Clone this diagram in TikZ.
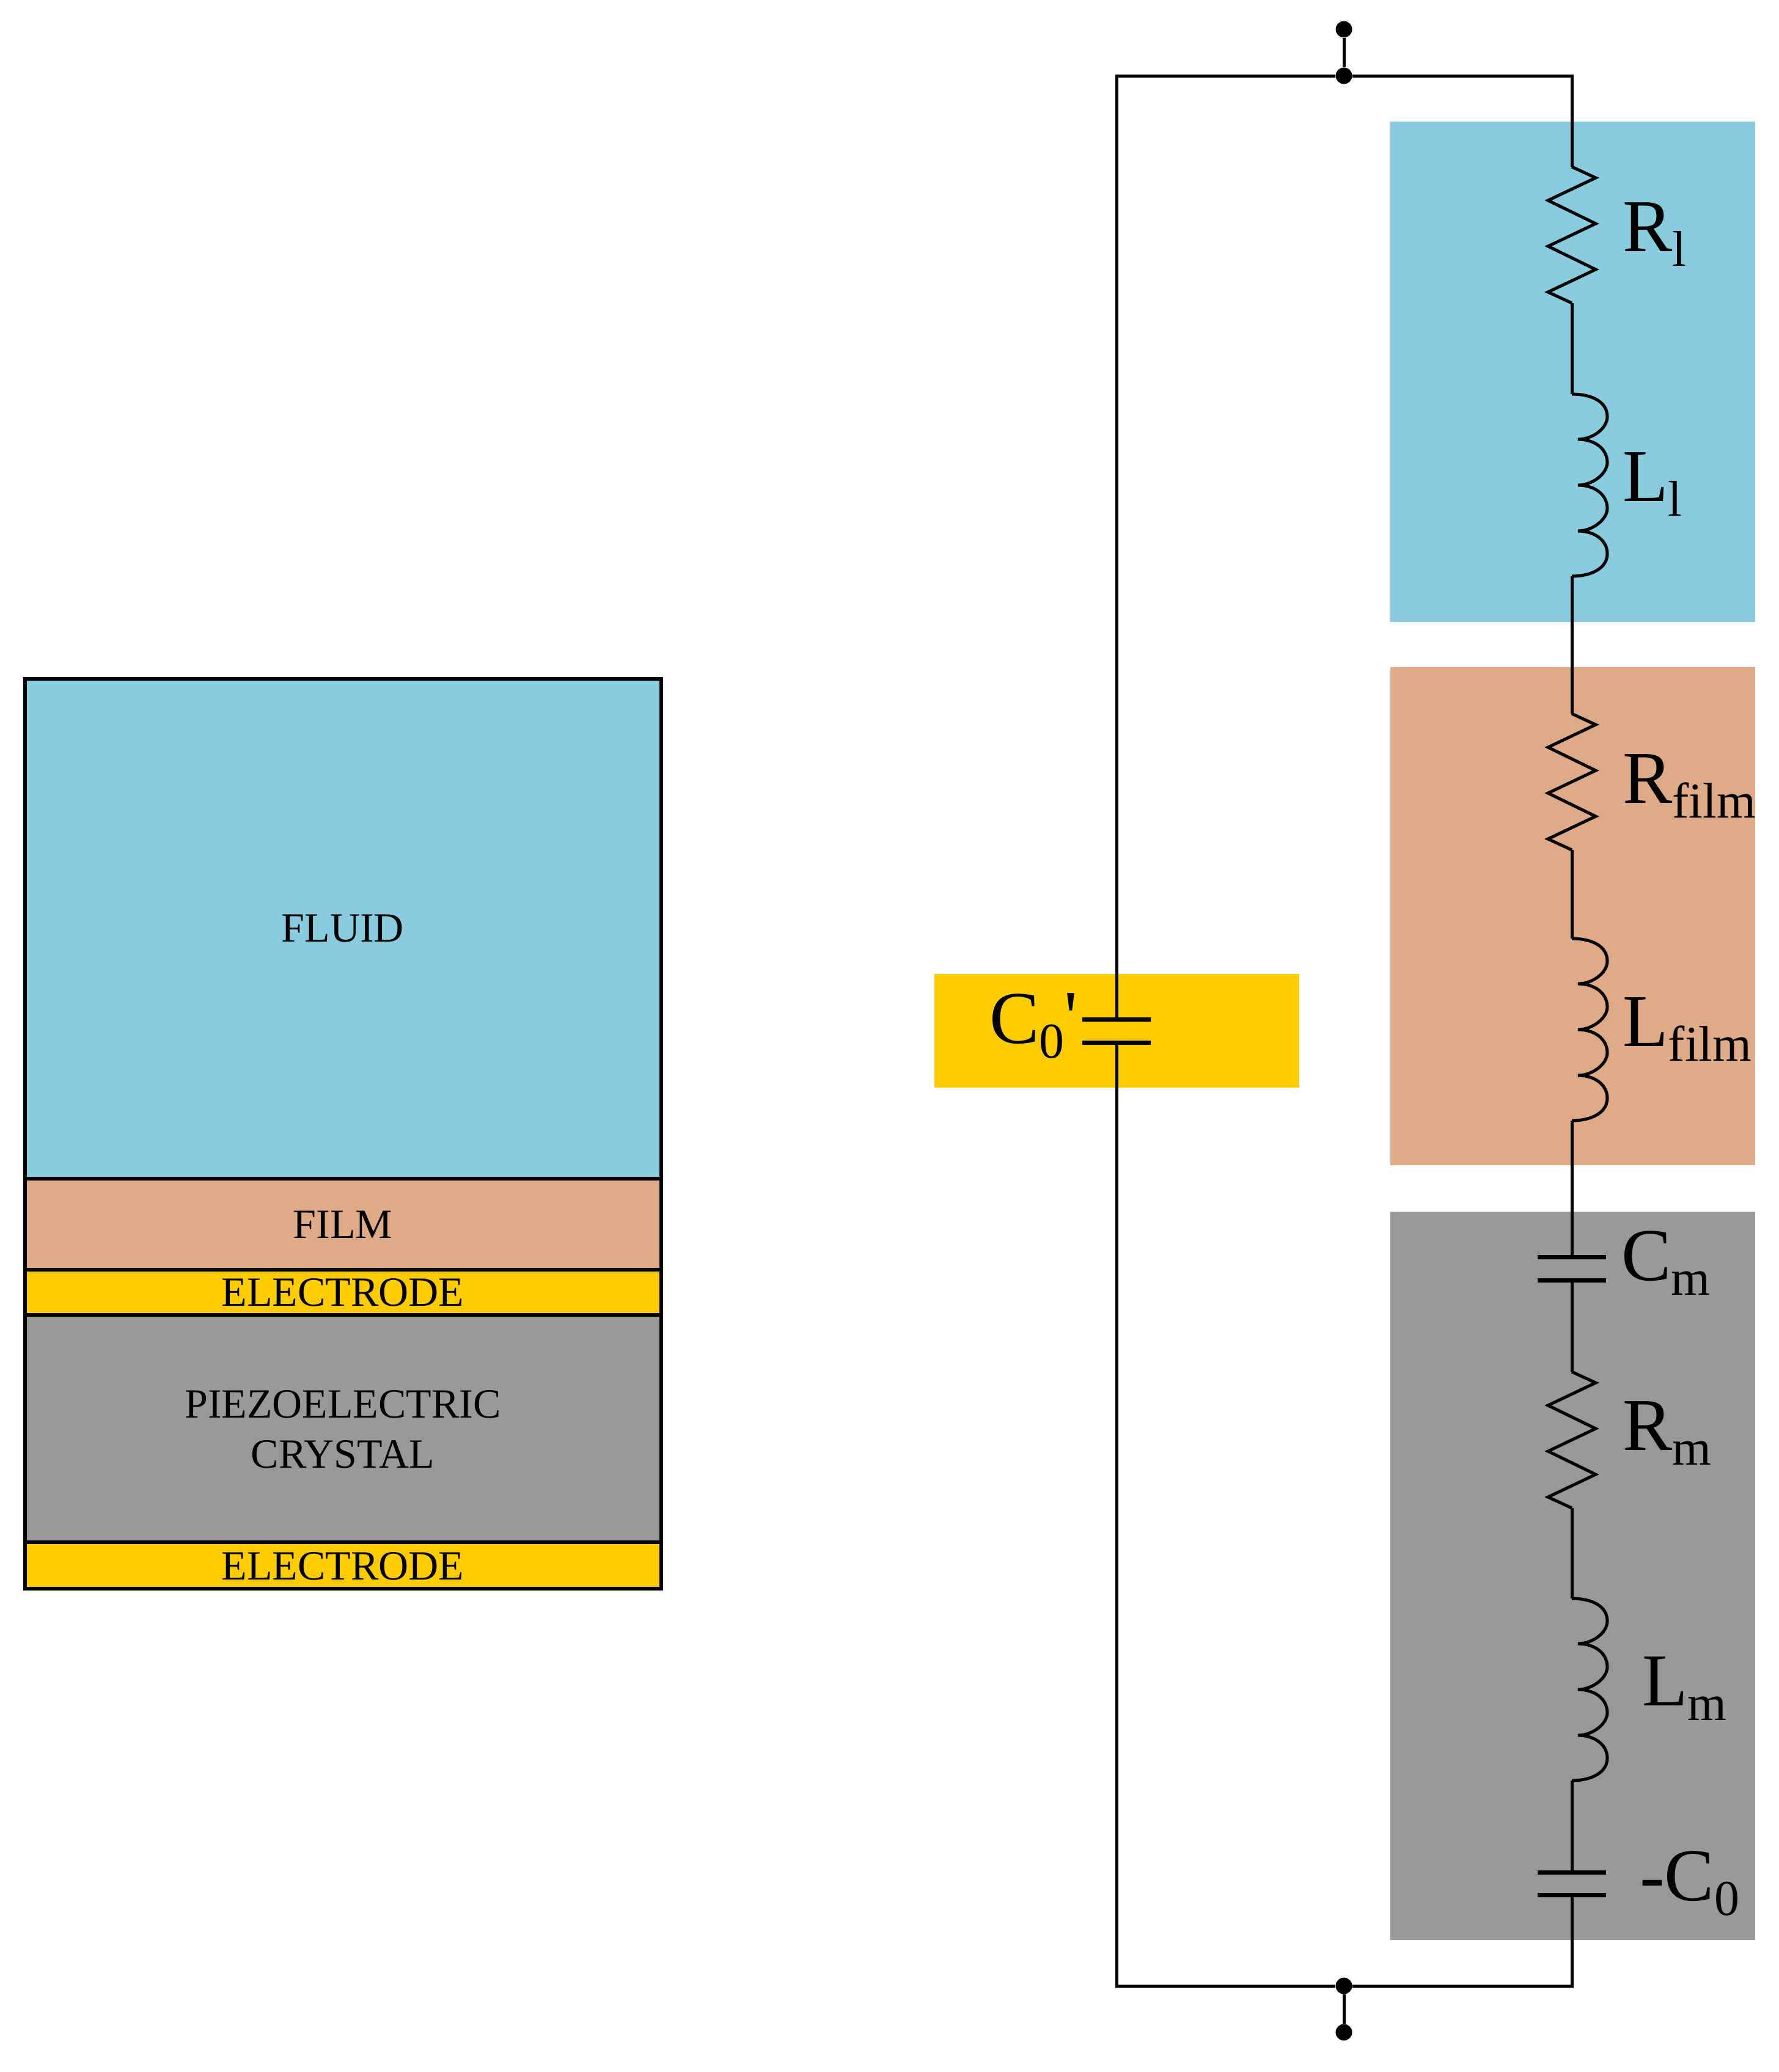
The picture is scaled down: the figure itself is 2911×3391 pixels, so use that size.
\documentclass[tikz,border=0pt]{standalone}
\usepackage{fontspec}
\setmainfont{Liberation Serif}
\newfontfamily\primefont{Liberation Serif}
\definecolor{fluidc}{HTML}{89CCDE}
\definecolor{filmc}{HTML}{DEAA87}
\definecolor{elecc}{HTML}{FFCC00}
\definecolor{crysc}{HTML}{999999}
\newcommand{\stacktext}{\fontsize{68}{78}\selectfont}
\newcommand{\lab}[2]{\fontsize{122}{122}\selectfont #1\raisebox{-24pt}{\fontsize{82}{82}\selectfont #2}}
\tikzset{
  x=1pt,y=-1pt,
  wire/.style={line width=5pt,black,line join=miter},
  plate/.style={line width=7pt,black},
  layerbox/.style={draw=black,line width=5.5pt,anchor=north west,inner sep=0pt,outer sep=0pt},
  zone/.style={anchor=north west,inner sep=0pt,outer sep=0pt},
  stacklabel/.style={anchor=base,inner sep=0pt,align=center},
  complabel/.style={anchor=base west,inner sep=0pt},
  terminal/.style={circle,fill=black,minimum size=27pt,inner sep=0pt},
  pics/resistor/.style={code={
    \draw[wire] (0,0) -- (39,18) -- (-39,55) -- (39,93) -- (-39,130) -- (39,168) -- (-39,205) -- (0,223);
  }},
  pics/inductor/.style={code={
    \draw[wire] (0,0) .. controls (32,0) and (58,12) .. (58,37)
      .. controls (58,56) and (34,74) .. (10,74)
      .. controls (38,74) and (58,90) .. (58,112)
      .. controls (58,130) and (34,149) .. (10,149)
      .. controls (38,149) and (58,165) .. (58,187)
      .. controls (58,205) and (34,224) .. (10,224)
      .. controls (38,224) and (58,240) .. (58,261)
      .. controls (58,285) and (32,298) .. (0,298);
  }}
}
\begin{document}
\begin{tikzpicture}
\useasboundingbox (0,0) rectangle (2911,3391);
\fill[white] (0,0) rectangle (2911,3391);

% layer stack
\node[layerbox,fill=fluidc,minimum width=1041pt,minimum height=818pt] (fluid) at (41,1111) {};
\node[layerbox,fill=filmc,minimum width=1041pt,minimum height=149pt] (film) at (41,1929) {};
\node[layerbox,fill=elecc,minimum width=1041pt,minimum height=74pt] (electop) at (41,2078) {};
\node[layerbox,fill=crysc,minimum width=1041pt,minimum height=372pt] (crystal) at (41,2152) {};
\node[layerbox,fill=elecc,minimum width=1041pt,minimum height=76pt] (elecbot) at (41,2524) {};
\node[stacklabel] (tfluid) at (561,1541) {\stacktext FLUID};
\node[stacklabel] (tfilm) at (561,2026) {\stacktext FILM};
\node[stacklabel] (telectop) at (561,2137) {\stacktext ELECTRODE};
\node[stacklabel] (tcrys1) at (561,2320) {\stacktext PIEZOELECTRIC};
\node[stacklabel] (tcrys2) at (561,2402) {\stacktext CRYSTAL};
\node[stacklabel] (telecbot) at (561,2585) {\stacktext ELECTRODE};

% colour zones
\node[zone,fill=fluidc,minimum width=597pt,minimum height=819pt] (zfluid) at (2275,199) {};
\node[zone,fill=filmc,minimum width=597pt,minimum height=815pt] (zfilm) at (2275,1092) {};
\node[zone,fill=crysc,minimum width=597pt,minimum height=1192pt] (zcrys) at (2275,1983) {};
\node[zone,fill=elecc,minimum width=597pt,minimum height=186pt] (zelec) at (1529,1594) {};

% terminals
\node[terminal] (t1) at (2199,48) {};
\node[terminal] (t2) at (2199,124) {};
\node[terminal] (t3) at (2199,3250) {};
\node[terminal] (t4) at (2199,3326) {};

% corners and component ends
\coordinate (tl) at (1827,124);
\coordinate (tr) at (2572,124);
\coordinate (bl) at (1827,3250);
\coordinate (br) at (2572,3250);
\coordinate (cpa) at (1827,1668);
\coordinate (cpb) at (1827,1706);
\coordinate (r1a) at (2572,273);  \coordinate (r1b) at (2572,496);
\coordinate (l1a) at (2572,645);  \coordinate (l1b) at (2572,943);
\coordinate (r2a) at (2572,1168); \coordinate (r2b) at (2572,1391);
\coordinate (l2a) at (2572,1536); \coordinate (l2b) at (2572,1834);
\coordinate (cma) at (2572,2057); \coordinate (cmb) at (2572,2095);
\coordinate (r3a) at (2572,2245); \coordinate (r3b) at (2572,2468);
\coordinate (l3a) at (2572,2616); \coordinate (l3b) at (2572,2914);
\coordinate (c0a) at (2572,3064); \coordinate (c0b) at (2572,3101);

% wires
\draw[wire] (t1) -- (t2);
\draw[wire] (t3) -- (t4);
\draw[wire] (cpa) -- (tl) -- (t2) -- (tr) -- (r1a);
\draw[wire] (cpb) -- (bl) -- (t3) -- (br) -- (c0b);
\draw[wire] (r1b) -- (l1a);
\draw[wire] (l1b) -- (r2a);
\draw[wire] (r2b) -- (l2a);
\draw[wire] (l2b) -- (cma);
\draw[wire] (cmb) -- (r3a);
\draw[wire] (r3b) -- (l3a);
\draw[wire] (l3b) -- (c0a);

% components
\pic at (r1a) {resistor};
\pic at (l1a) {inductor};
\pic at (r2a) {resistor};
\pic at (l2a) {inductor};
\pic at (r3a) {resistor};
\pic at (l3a) {inductor};
\draw[plate] ([xshift=-56pt]cma) -- ([xshift=56pt]cma);
\draw[plate] ([xshift=-56pt]cmb) -- ([xshift=56pt]cmb);
\draw[plate] ([xshift=-56pt]c0a) -- ([xshift=56pt]c0a);
\draw[plate] ([xshift=-56pt]c0b) -- ([xshift=56pt]c0b);
\draw[plate] ([xshift=-56pt]cpa) -- ([xshift=56pt]cpa);
\draw[plate] ([xshift=-56pt]cpb) -- ([xshift=56pt]cpb);

% labels
\node[complabel] (lr1) at (2655,411) {\lab{R}{l}};
\node[complabel] (ll1) at (2655,820) {\lab{L}{l}};
\node[complabel] (lr2) at (2655,1314) {\lab{R}{film}};
\node[complabel] (ll2) at (2655,1712) {\lab{L}{film}};
\node[complabel] (lcm) at (2653,2095) {\lab{C}{m}};
\node[complabel] (lr3) at (2655,2373) {\lab{R}{m}};
\node[complabel] (ll3) at (2687,2791) {\lab{L}{m}};
\node[complabel] (lc0) at (2683,3110) {\lab{-C}{0}};
\node[complabel] (lcp) at (1619,1707) {\lab{C}{0}\raisebox{2pt}{\fontsize{122}{122}\primefont\char"27}};
\end{tikzpicture}
\end{document}
